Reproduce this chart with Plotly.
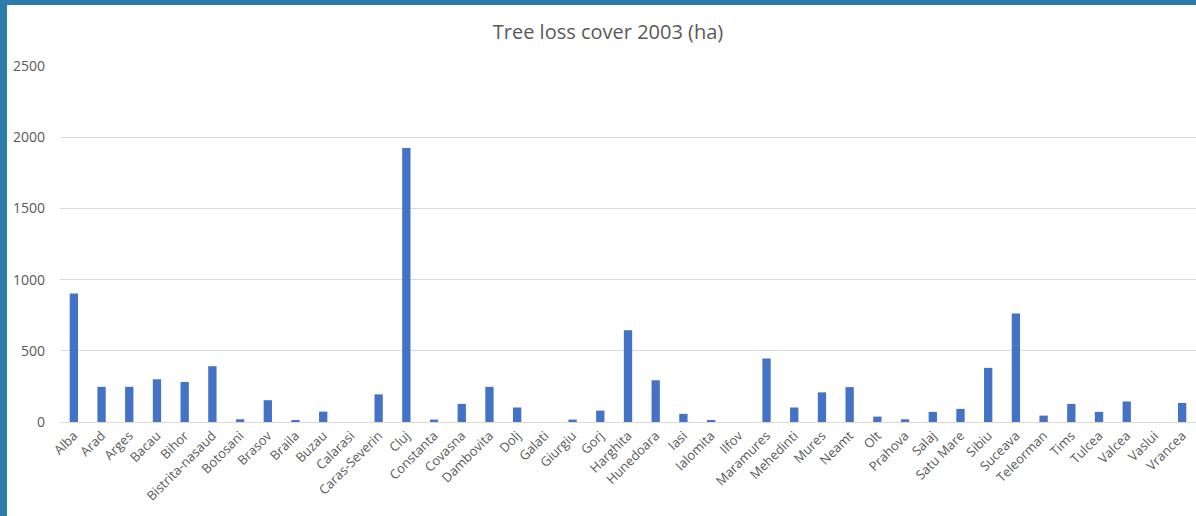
import plotly.graph_objects as go

counties = [
    "Alba", "Arad", "Arges", "Bacau", "Bihor", "Bistrita-nasaud", "Botosani",
    "Brasov", "Braila", "Buzau", "Calarasi", "Caras-Severin", "Cluj", "Constanta",
    "Covasna", "Dambovita", "Dolj", "Galati", "Giurgiu", "Gorj", "Harghita",
    "Hunedoara", "Iasi", "Ialomita", "Ilfov", "Maramures", "Mehedinti", "Mures",
    "Neamt", "Olt", "Prahova", "Salaj", "Satu Mare", "Sibiu", "Suceava",
    "Teleorman", "Tims", "Tulcea", "Valcea", "Vaslui", "Vrancea",
]
tree_loss_ha = [
    903, 247, 247, 300, 281, 392, 19,
    153, 12, 73, 0, 194, 1925, 17,
    127, 247, 102, 0, 17, 80, 644,
    293, 57, 12, 0, 446, 102, 208,
    245, 38, 19, 71, 92, 380, 762,
    45, 127, 71, 144, 0, 134,
]
y_ticks = [0, 500, 1000, 1500, 2000, 2500]

TEXT = "#595959"
GRID = "#d9d9d9"
FRAME = "#2b7bab"

fig = go.Figure(
    go.Bar(x=counties, y=tree_loss_ha, marker=dict(color="#4472c4", line=dict(width=0)))
)

# slide frame: narrow band on the left and along the top
W, H = 1196, 516
L, R, T, B = 60, 0, 66, 94
pw, ph = W - L - R, H - T - B
def px_x(v):
    return (v - L) / pw
def px_y(v):
    return (H - B - v) / ph

fig.add_shape(type="rect", xref="paper", yref="paper",
              x0=px_x(0), x1=px_x(7), y0=px_y(H), y1=px_y(0),
              fillcolor=FRAME, line=dict(width=0), layer="above")
fig.add_shape(type="rect", xref="paper", yref="paper",
              x0=px_x(0), x1=px_x(W), y0=px_y(5), y1=px_y(0),
              fillcolor=FRAME, line=dict(width=0), layer="above")

fig.update_layout(
    width=W, height=H,
    margin=dict(l=L, r=R, t=T, b=B, autoexpand=False),
    paper_bgcolor="white", plot_bgcolor="white",
    font=dict(family="Open Sans", color=TEXT, size=13),
    title=dict(text="Tree loss cover 2003 (ha)", x=px_x(608), xanchor="center",
               xref="paper", y=1 - 32 / H, yanchor="middle",
               font=dict(size=20, color=TEXT, family="Open Sans")),
    bargap=0.7,
    showlegend=False,
)
fig.update_xaxes(
    tickangle=-45, tickfont=dict(size=13, color=TEXT),
    showgrid=False, showline=True, linecolor=GRID, linewidth=1,
    ticks="", automargin=False,
)
fig.update_yaxes(
    range=[0, 2500], tickvals=y_ticks, tickfont=dict(size=14, color=TEXT),
    showgrid=True, gridcolor=GRID, gridwidth=1, zeroline=False,
    showline=False, ticks="", ticklabelstandoff=14, automargin=False,
)

fig.write_html("out.html")
